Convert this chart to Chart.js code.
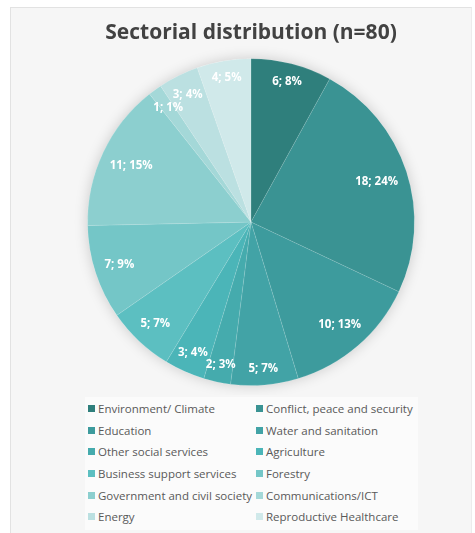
<!DOCTYPE html>
<html>
<head>
<meta charset="utf-8">
<script src="https://cdn.jsdelivr.net/npm/chart.js@4/dist/chart.umd.min.js"></script>
<style>
  html, body { margin: 0; padding: 0; background: #ffffff; }
  #frame {
    position: absolute; left: 10px; top: 7px; width: 460px; height: 530px;
    background: #f6f6f6; border-left: 1px solid #e2e2e2; border-top: 1px solid #e2e2e2;
    border-right: 1px solid #ececec;
  }
  #wrap { position: absolute; left: 0; top: 0; width: 475px; height: 395px; }
  #legend {
    position: absolute; left: 85px; top: 397px; width: 333px; height: 133px;
    background: #fbfbfb;
    font-family: "Open Sans", sans-serif; font-size: 11.5px; color: #595959;
    display: grid; grid-template-columns: 168px 165px; grid-auto-rows: 21.6px;
    padding-top: 1px; box-sizing: border-box;
  }
  #legend div { display: flex; align-items: center; white-space: nowrap; }
  #legend span.box { width: 7px; height: 7px; margin: 0 3px 0 3px; flex: none; }
</style>
</head>
<body>
<div id="frame"></div>
<div id="wrap"><canvas id="piechart" width="475" height="395"></canvas></div>
<div id="legend"></div>
<script>
const sectors = [
  "Environment/ Climate", "Conflict, peace and security", "Education",
  "Water and sanitation", "Other social services", "Agriculture",
  "Business support services", "Forestry", "Government and civil society",
  "Communications/ICT", "Energy", "Reproductive Healthcare"
];
const counts = [6, 18, 10, 5, 2, 3, 5, 7, 11, 1, 3, 4];
const percents = [8, 24, 13, 7, 3, 4, 7, 9, 15, 1, 4, 5];
const colors = [
  "#2f7f7c", "#3a9393", "#3d9b9d", "#42a3a6", "#45abad", "#4bb5b8",
  "#5cbfc1", "#74c6c7", "#8ccfcf", "#a4d8d8", "#bbe0e1", "#d0e9ea"
];

// labels placed inside the slice end, like Excel's "inside end"
const sliceLabels = {
  id: "sliceLabels",
  afterDatasetsDraw(chart) {
    const ctx = chart.ctx;
    const meta = chart.getDatasetMeta(0);
    ctx.save();
    ctx.font = "bold 11.5px 'Open Sans', sans-serif";
    ctx.fillStyle = "#ffffff";
    ctx.textAlign = "center";
    ctx.textBaseline = "middle";
    meta.data.forEach((arc, i) => {
      const p = arc.getProps(["x", "y", "startAngle", "endAngle", "outerRadius"], true);
      const mid = (p.startAngle + p.endAngle) / 2;
      const txt = counts[i] + "; " + percents[i] + "%";
      const w = ctx.measureText(txt).width;
      const c = Math.cos(mid), s = Math.sin(mid);
      const ext = (w / 2) * Math.abs(c) + 6 * Math.abs(s);
      const d = p.outerRadius - ext - 9;
      ctx.fillText(txt, p.x + c * d, p.y + s * d);
    });
    ctx.restore();
  }
};

const pieShadow = {
  id: "pieShadow",
  beforeDatasetsDraw(chart) {
    const ctx = chart.ctx;
    const arc = chart.getDatasetMeta(0).data[0];
    if (!arc) return;
    ctx.save();
    ctx.shadowColor = "rgba(0,0,0,0.18)";
    ctx.shadowBlur = 14;
    ctx.fillStyle = "#f6f6f6";
    ctx.beginPath();
    ctx.arc(arc.x, arc.y, arc.outerRadius, 0, Math.PI * 2);
    ctx.fill();
    ctx.restore();
  }
};

new Chart(document.getElementById("piechart"), {
  type: "pie",
  data: {
    labels: sectors,
    datasets: [{
      data: counts,
      backgroundColor: colors,
      borderColor: "rgba(255,255,255,0.1)",
      borderWidth: 1
    }]
  },
  options: {
    responsive: false,
    animation: false,
    layout: { padding: { left: 40, right: 13, top: 0, bottom: 9 } },
    plugins: {
      legend: { display: false },
      tooltip: { enabled: false },
      title: {
        display: true,
        text: "Sectorial distribution (n=80)",
        color: "#424242",
        font: { family: "'Open Sans', sans-serif", size: 21, weight: "bold" },
        padding: { top: 20, bottom: 13 }
      }
    }
  },
  plugins: [pieShadow, sliceLabels]
});

const legend = document.getElementById("legend");
sectors.forEach((name, i) => {
  const item = document.createElement("div");
  const box = document.createElement("span");
  box.className = "box";
  box.style.background = colors[i];
  item.appendChild(box);
  item.appendChild(document.createTextNode(name));
  legend.appendChild(item);
});
</script>
</body>
</html>
